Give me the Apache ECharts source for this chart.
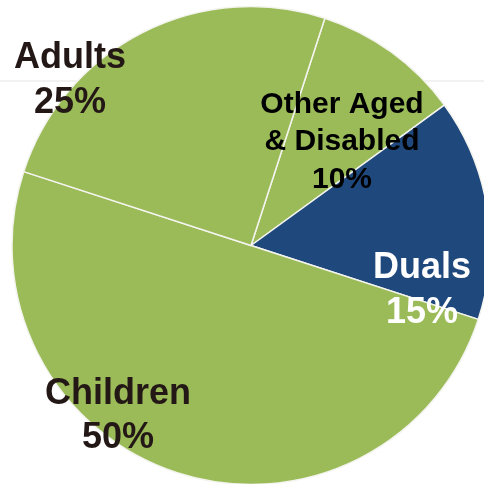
<!DOCTYPE html>
<html>
<head>
<meta charset="utf-8">
<script src="https://cdn.jsdelivr.net/npm/echarts@6/dist/echarts.min.js"></script>
<style>
  html, body { margin: 0; padding: 0; background: #ffffff; }
  #chart { width: 484px; height: 484px; }
</style>
</head>
<body>
<div id="chart"></div>
<script>
// Enrollment shares by group (percent)
const categories = ['Other Aged\n& Disabled', 'Duals', 'Children', 'Adults'];
const shares = [10, 15, 50, 25];

// Styling per slice
const sliceColors = ['#9BBB59', '#1F497D', '#9BBB59', '#9BBB59'];
const labelColors = ['#000000', '#ffffff', '#231815', '#231815'];
const labelSizes = [30, 36, 36, 36];
const labelLineHeights = [37.5, 45, 44.5, 45];
// Label block centres in pixels
const labelSpots = [[342, 142], [422, 291], [118, 416], [70, 81]];

const chart = echarts.init(document.getElementById('chart'), null, { renderer: 'canvas' });

const pieData = categories.map((name, i) => ({
  name: name,
  value: shares[i],
  itemStyle: { color: sliceColors[i] },
  label: {
    color: labelColors[i],
    fontSize: labelSizes[i],
    lineHeight: labelLineHeights[i]
  }
}));

chart.setOption({
  animation: false,
  backgroundColor: '#ffffff',
  graphic: [{
    type: 'line',
    z: 0,
    shape: { x1: 0, y1: 81, x2: 484, y2: 81 },
    style: { stroke: '#e4e4e4', lineWidth: 1 }
  }],
  series: [{
    type: 'pie',
    z: 2,
    center: [251, 245.5],
    radius: 239,
    startAngle: 72,
    clockwise: true,
    avoidLabelOverlap: false,
    data: pieData,
    itemStyle: { borderColor: '#f4f4ee', borderWidth: 1.5 },
    label: {
      show: true,
      position: 'inside',
      fontFamily: '"Liberation Sans", Arial, sans-serif',
      fontWeight: 'bold',
      align: 'center',
      formatter: p => p.name + '\n' + p.value + '%'
    },
    labelLine: { show: false },
    emphasis: { disabled: true },
    labelLayout: function (params) {
      const spot = labelSpots[params.dataIndex];
      return { x: spot[0], y: spot[1], align: 'center', verticalAlign: 'middle' };
    }
  }]
});
</script>
</body>
</html>
